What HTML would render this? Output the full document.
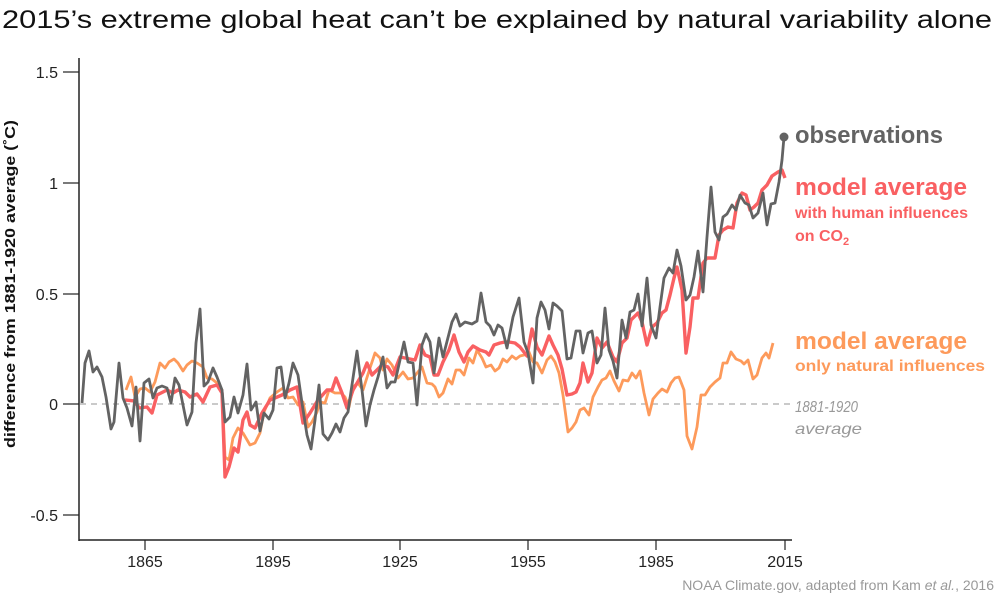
<!DOCTYPE html>
<html><head><meta charset="utf-8"><style>
body{margin:0;background:#fff}
svg{display:block;font-family:"Liberation Sans",sans-serif}
</style></head><body>
<svg width="1000" height="597" viewBox="0 0 1000 597">
<text x="2" y="28" font-size="25" fill="#111" textLength="990" lengthAdjust="spacingAndGlyphs">2015’s extreme global heat can’t be explained by natural variability alone</text>
<line x1="79" y1="58" x2="79" y2="541" stroke="#222" stroke-width="1.5"/>
<line x1="79" y1="540" x2="792" y2="540" stroke="#222" stroke-width="1.5"/>
<g stroke="#222" stroke-width="1.2">
<line x1="63" y1="72" x2="79" y2="72"/><line x1="63" y1="183" x2="79" y2="183"/><line x1="63" y1="294" x2="79" y2="294"/><line x1="63" y1="404" x2="79" y2="404"/><line x1="63" y1="515" x2="79" y2="515"/>
<line x1="145" y1="540" x2="145" y2="550"/><line x1="273" y1="540" x2="273" y2="550"/><line x1="400" y1="540" x2="400" y2="550"/><line x1="528" y1="540" x2="528" y2="550"/><line x1="656" y1="540" x2="656" y2="550"/><line x1="785" y1="540" x2="785" y2="550"/>
</g>
<g font-size="16" fill="#222" text-anchor="end">
<text x="58" y="78">1.5</text><text x="58" y="189">1</text><text x="58" y="300">0.5</text><text x="58" y="410">0</text><text x="58" y="521">-0.5</text>
</g>
<g font-size="16" fill="#222" text-anchor="middle">
<text x="145" y="567">1865</text><text x="273" y="567">1895</text><text x="400" y="567">1925</text><text x="528" y="567">1955</text><text x="656" y="567">1985</text><text x="785" y="567">2015</text>
</g>
<text transform="translate(15,448) rotate(-90)" font-size="15" font-weight="bold" fill="#111" textLength="328" lengthAdjust="spacingAndGlyphs">difference from 1881-1920 average (˚C)</text>
<line x1="80" y1="404" x2="790" y2="404" stroke="#aaa" stroke-width="1.3" stroke-dasharray="6,5"/>
<g fill="none" stroke-linejoin="round" stroke-width="2.8">
<polyline stroke="#fd9a5b" points="126,390 131,377 135,397 140,389 145,388 150,392 155,382 160,363 165,368 169,362 174,359 178,363 183,371 187,365 192,361 197,363 203,367 207,378 212,379 217,383 222,390 225,457 229,460 233,438 238,428 243,433 250,445 255,443 260,433 264,412 270,398 277,392 283,388 288,398 293,397 298,405 303,402 308,427 312,422 317,412 320,402 325,403 329,390 335,393 341,393 345,397 349,407 353,387 358,383 363,390 370,368 375,353 380,358 383,370 387,359 392,365 398,378 403,372 408,379 413,378 422,367 427,383 432,384 435,387 439,397 443,393 448,379 452,384 456,370 460,370 464,375 469,358 473,363 477,350 482,358 486,367 491,365 495,371 499,368 503,359 507,362 512,356 516,359 520,356 524,355 529,352 533,362 537,363 542,373 547,360 551,356 555,362 559,373 563,395 568,432 572,428 576,422 580,410 584,408 589,415 593,397 598,387 602,380 606,378 610,371 614,381 619,391 623,380 628,381 632,373 636,378 640,371 644,393 649,415 653,399 658,393 662,389 667,392 671,383 675,378 679,377 684,390 687,436 692,449 697,427 701,395 705,395 710,387 715,382 720,378 723,363 727,363 731,352 736,359 741,361 744,364 748,360 753,379 757,375 762,358 766,353 769,358 773,343"/>
<polyline stroke="#f96062" stroke-width="3.4" points="125,400 135,401 139,408 147,407 152,413 157,395 167,390 173,393 178,390 185,392 190,397 197,394 203,402 210,387 217,385 222,393 225,477 229,467 234,448 238,452 243,420 247,412 250,425 255,428 262,413 270,400 282,395 290,390 297,387 303,423 310,413 318,400 327,390 332,390 336,378 342,393 347,408 353,390 363,373 367,363 372,375 382,365 388,367 393,375 400,357 410,359 415,360 420,345 425,355 430,357 434,375 438,375 443,362 449,350 454,335 459,352 464,362 468,352 473,346 480,350 486,352 489,355 494,345 500,343 505,342 509,342 515,343 520,347 527,356 532,329 537,347 542,355 549,336 553,345 558,355 562,369 567,395 572,394 576,392 580,383 583,363 588,382 592,373 597,338 602,348 607,342 613,357 617,362 622,343 627,338 631,320 638,313 642,322 647,345 652,327 657,323 662,313 666,310 670,295 674,278 677,267 682,290 686,353 690,327 693,298 698,298 703,263 707,258 715,258 719,235 723,230 728,227 733,228 737,203 742,193 746,195 750,210 754,207 758,203 762,190 767,185 772,176 778,172 782,170 785,178"/>
<polyline stroke="#636363" points="82,403 85,363 89,351 93,372 97,367 102,377 106,397 111,429 114,422 119,363 123,398 127,408 132,426 136,387 140,441 144,383 149,379 153,398 157,388 162,386 167,388 171,403 175,378 179,385 183,405 187,425 192,412 196,343 200,309 204,386 208,382 213,368 217,377 222,390 225,422 230,417 234,397 238,413 243,395 247,364 251,410 256,402 260,431 264,413 269,419 273,410 277,368 281,367 285,398 289,383 293,363 298,375 302,403 307,435 311,449 315,420 319,385 323,434 328,440 332,433 336,424 340,432 344,418 348,412 353,378 357,351 362,390 366,426 370,405 374,390 378,377 383,357 387,388 391,382 395,382 400,360 404,342 408,362 413,363 417,405 422,345 426,334 430,342 434,373 439,338 443,357 452,322 456,314 460,326 465,322 472,324 477,321 481,293 486,322 490,326 494,335 498,325 502,328 507,348 513,317 519,298 524,342 528,353 533,383 537,318 541,302 545,310 549,329 553,303 557,306 562,311 567,359 571,358 576,331 580,331 583,353 588,333 592,331 597,363 601,355 605,308 609,350 613,361 617,378 622,320 626,338 630,312 634,310 638,294 642,326 647,278 651,325 656,338 660,307 664,278 669,268 673,273 677,250 681,266 686,300 690,295 694,277 698,251 703,292 707,237 711,187 715,232 719,240 723,217 727,214 732,205 736,210 740,195 745,203 749,205 753,218 758,213 763,193 767,225 771,204 775,203 779,182 782,160 784,137"/>
</g>
<circle cx="784" cy="137" r="4.5" fill="#636363"/>
<text x="795" y="143" font-size="24" font-weight="bold" fill="#636363" textLength="148" lengthAdjust="spacingAndGlyphs">observations</text>
<text x="795" y="195" font-size="24" font-weight="bold" fill="#f96062" textLength="172" lengthAdjust="spacingAndGlyphs">model average</text>
<text x="795" y="218" font-size="16" font-weight="bold" fill="#f96062" textLength="173" lengthAdjust="spacingAndGlyphs">with human influences</text>
<text x="795" y="241" font-size="16" font-weight="bold" fill="#f96062">on CO<tspan font-size="11" dy="4">2</tspan></text>
<text x="795" y="349" font-size="24" font-weight="bold" fill="#fd9a5b" textLength="172" lengthAdjust="spacingAndGlyphs">model average</text>
<text x="795" y="371" font-size="16" font-weight="bold" fill="#fd9a5b" textLength="190" lengthAdjust="spacingAndGlyphs">only natural influences</text>
<text x="795" y="412" font-size="16" font-style="italic" fill="#999" textLength="63" lengthAdjust="spacingAndGlyphs">1881-1920</text>
<text x="795" y="434" font-size="16" font-style="italic" fill="#999" textLength="67" lengthAdjust="spacingAndGlyphs">average</text>
<text x="994" y="590" font-size="14" fill="#999" text-anchor="end">NOAA Climate.gov, adapted from Kam <tspan font-style="italic">et al.</tspan>, 2016</text>
</svg>
</body></html>
